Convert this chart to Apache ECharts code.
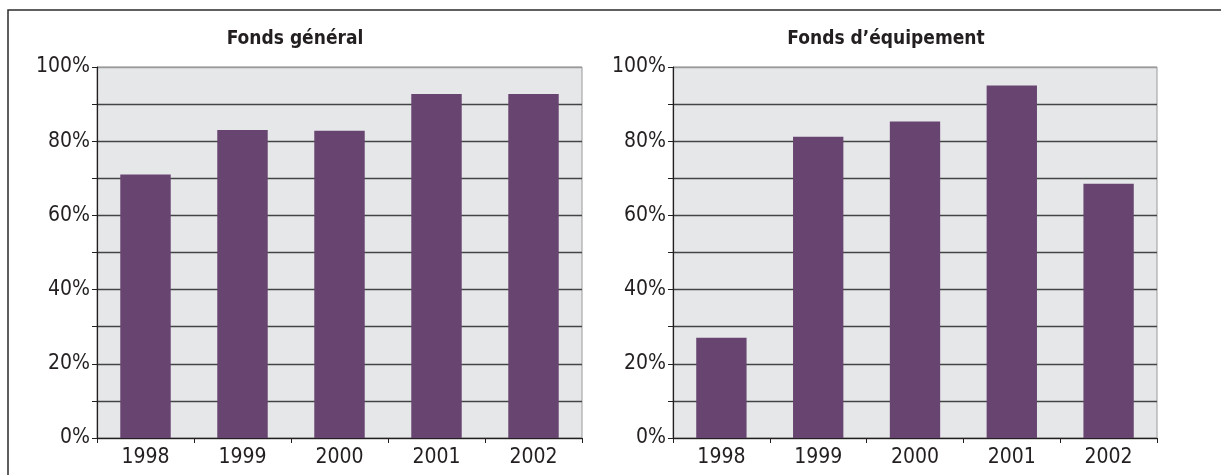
<!DOCTYPE html>
<html>
<head>
<meta charset="utf-8">
<script src="https://cdn.jsdelivr.net/npm/echarts@6/dist/echarts.min.js"></script>
<style>
  html, body { margin: 0; padding: 0; background: #ffffff; }
  #chart { width: 1221px; height: 475px; }
</style>
</head>
<body>
<div id="chart"></div>
<script>
// Years shown on both category axes
const years = ['1998', '1999', '2000', '2001', '2002'];
// Share (%) per year, general fund
const fondsGeneral = [71, 83, 82.8, 92.7, 92.7];
// Share (%) per year, capital fund
const fondsEquipement = [27, 81.2, 85.3, 95, 68.5];
// Panel titles
const titles = ['Fonds général', 'Fonds d\u2019équipement'];

const FONT = '"Liberation Sans Narrow", "DejaVu Sans Condensed", "Liberation Sans", sans-serif';
const BAR = '#674570';
const PLOT_BG = '#e6e7e9';
const INK = '#231f20';

// 0%..90% lines dark, top line (100%) lighter
const gridColors = ['#444','#444','#444','#444','#444','#444','#444','#444','#444','#444','#9a9a9a'];

function yAxis(gridIndex) {
  return {
    type: 'value', gridIndex, min: 0, max: 100, interval: 10,
    axisLine: { show: true, lineStyle: { color: INK, width: 1.2 } },
    axisTick: { show: true, length: 5, lineStyle: { color: INK, width: 1 } },
    splitLine: { show: true, lineStyle: { color: gridColors, width: 1.3 } },
    axisLabel: {
      margin: 7, color: INK, fontFamily: FONT, fontSize: 21,
      formatter: v => (v % 20 === 0 ? v + '%' : '')
    }
  };
}

function xAxis(gridIndex) {
  return {
    type: 'category', gridIndex, data: years, boundaryGap: true,
    axisLine: { show: true, lineStyle: { color: INK, width: 1.2 } },
    axisTick: { show: true, length: 5, alignWithLabel: false, lineStyle: { color: INK, width: 1 } },
    axisLabel: { margin: 9, color: INK, fontFamily: FONT, fontSize: 21 }
  };
}

const chart = echarts.init(document.getElementById('chart'), null, { renderer: 'canvas' });
chart.setOption({
  animation: false,
  backgroundColor: '#ffffff',
  title: [
    { text: titles[0], left: 290, top: 25, textAlign: 'center',
      textStyle: { fontFamily: FONT, fontSize: 19, fontWeight: 'bold', color: INK } },
    { text: titles[1], left: 881, top: 25, textAlign: 'center',
      textStyle: { fontFamily: FONT, fontSize: 19, fontWeight: 'bold', color: INK } }
  ],
  grid: [
    { left: 97, right: 639, top: 67, bottom: 37, show: true,
      backgroundColor: PLOT_BG, borderColor: '#9a9a9a', borderWidth: 1 },
    { left: 673, right: 64, top: 67, bottom: 37, show: true,
      backgroundColor: PLOT_BG, borderColor: '#9a9a9a', borderWidth: 1 }
  ],
  xAxis: [xAxis(0), xAxis(1)],
  yAxis: [yAxis(0), yAxis(1)],
  series: [
    { type: 'bar', xAxisIndex: 0, yAxisIndex: 0, data: fondsGeneral,
      barWidth: '52%', itemStyle: { color: BAR } },
    { type: 'bar', xAxisIndex: 1, yAxisIndex: 1, data: fondsEquipement,
      barWidth: '52%', itemStyle: { color: BAR } }
  ],
  graphic: [
    // Frame around the figure (left and top edges)
    { type: 'polyline', silent: true,
      shape: { points: [[8, 480], [8, 10], [1225, 10]] },
      style: { stroke: '#2b2b2b', lineWidth: 1.5, fill: null } }
  ]
});
</script>
</body>
</html>
